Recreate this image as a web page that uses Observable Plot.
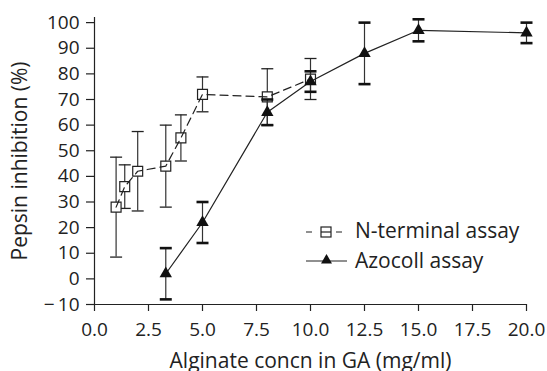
<!DOCTYPE html>
<html>
<head>
<meta charset="utf-8">
<script src="https://cdn.jsdelivr.net/npm/d3@7"></script>
<script src="https://cdn.jsdelivr.net/npm/@observablehq/plot@0.6"></script>
<style>
  html, body { margin: 0; padding: 0; background: #fff; }
  #wrap { position: relative; width: 547px; height: 371px; }
  #legend { position: absolute; left: 0; top: 0; pointer-events: none; }
  #legend text { font-family: "Open Sans", sans-serif; font-size: 21px; fill: #222; }
</style>
</head>
<body>
<div id="wrap">
  <svg id="legend" width="547" height="371">
    <line x1="306" y1="232" x2="345" y2="232" stroke="#222" stroke-width="1.2" stroke-dasharray="6,9"/>
    <rect x="321" y="227" width="10" height="10" fill="#fff" stroke="#222" stroke-width="1.2"/>
    <line x1="321" y1="232" x2="331" y2="232" stroke="#222" stroke-width="1.2"/>
    <text x="355" y="238">N-terminal assay</text>
    <line x1="306" y1="261" x2="347" y2="261" stroke="#222" stroke-width="1.2"/>
    <path d="M326.5,254 L332,263.5 L321,263.5 Z" fill="#111"/>
    <text x="355" y="268">Azocoll assay</text>
  </svg>
</div>
<script>
// N-terminal assay
const nX   = [1.0, 1.4, 2.0, 3.3, 4.0, 5.0, 8.0, 10.0];
const nY   = [28, 36, 42, 44, 55, 72, 71, 78];
const nErr = [19.5, 8.5, 15.5, 16, 9, 6.8, 11, 8];
// Azocoll assay
const aX   = [3.3, 5.0, 8.0, 10.0, 12.5, 15.0, 20.0];
const aY   = [2, 22, 65, 77, 88, 97, 96];
const aErr = [10, 8, 5, 4, 12, 4.3, 4];
// ticks
const xTicks = [0, 2.5, 5, 7.5, 10, 12.5, 15, 17.5, 20];
const yTicks = [-10, 0, 10, 20, 30, 40, 50, 60, 70, 80, 90, 100];

const rows = (xs, ys, es) => xs.map((x, i) => ({x, y: ys[i], lo: ys[i] - es[i], hi: ys[i] + es[i]}));
const nRows = rows(nX, nY, nErr);
const aRows = rows(aX, aY, aErr);

const cap = {
  draw(ctx, size) {
    const r = Math.sqrt(size / Math.PI);
    ctx.moveTo(-r, 0);
    ctx.lineTo(r, 0);
  }
};

const chart = Plot.plot({
  width: 547,
  height: 371,
  marginLeft: 94,
  marginRight: 21,
  marginTop: 17,
  marginBottom: 67,
  style: {fontFamily: "Open Sans, sans-serif", fontSize: "19px", color: "#222", background: "#fff"},
  x: {domain: [0, 20]},
  y: {domain: [-10, 102]},
  marks: [
    Plot.axisX({ticks: xTicks, tickFormat: d3.format(".1f"), tickSize: 7, tickPadding: 11, strokeWidth: 1.2,
      fontSize: 19, fill: "#222", label: null}),
    Plot.axisX({ticks: [], label: "Alginate concn in GA (mg/ml)", labelAnchor: "center", labelArrow: "none",
      labelOffset: 63.5, fontSize: 21, fill: "#222"}),
    Plot.axisY({ticks: yTicks, tickFormat: d => d < 0 ? "\u2212\u2009" + Math.abs(d) : String(d),
      tickSize: 8, tickPadding: 7, strokeWidth: 1.2, fontSize: 19, fill: "#222", label: null}),
    Plot.axisY({ticks: [], label: "Pepsin inhibition (%)", labelAnchor: "center", labelArrow: "none",
      labelOffset: 82, fontSize: 21, fill: "#222"}),
    Plot.ruleX([0], {stroke: "#222", strokeWidth: 1.2}),
    Plot.ruleY([-10], {stroke: "#222", strokeWidth: 1.2}),
    // N-terminal assay
    Plot.ruleX(nRows, {x: "x", y1: "lo", y2: "hi", stroke: "#333", strokeWidth: 1.2}),
    Plot.dot(nRows, {x: "x", y: "lo", symbol: cap, r: 6, stroke: "#222", strokeWidth: 1.3}),
    Plot.dot(nRows, {x: "x", y: "hi", symbol: cap, r: 6, stroke: "#222", strokeWidth: 1.3}),
    Plot.dot(nRows, {x: "x", y: "y", symbol: "square", r: 5.6, fill: "#fff", stroke: "#222", strokeWidth: 1.2}),
    Plot.line(nRows, {x: "x", y: "y", stroke: "#222", strokeWidth: 1.2, strokeDasharray: "8,5"}),
    // Azocoll assay
    Plot.ruleX(aRows, {x: "x", y1: "lo", y2: "hi", stroke: "#333", strokeWidth: 1.2}),
    Plot.dot(aRows, {x: "x", y: "lo", symbol: cap, r: 6, stroke: "#111", strokeWidth: 2.6}),
    Plot.dot(aRows, {x: "x", y: "hi", symbol: cap, r: 6, stroke: "#111", strokeWidth: 2.6}),
    Plot.line(aRows, {x: "x", y: "y", stroke: "#222", strokeWidth: 1.2}),
    Plot.dot(aRows, {x: "x", y: "y", symbol: "triangle", r: 4.6, fill: "#111", stroke: "none"})
  ]
});
document.getElementById("wrap").prepend(chart);
</script>
</body>
</html>
